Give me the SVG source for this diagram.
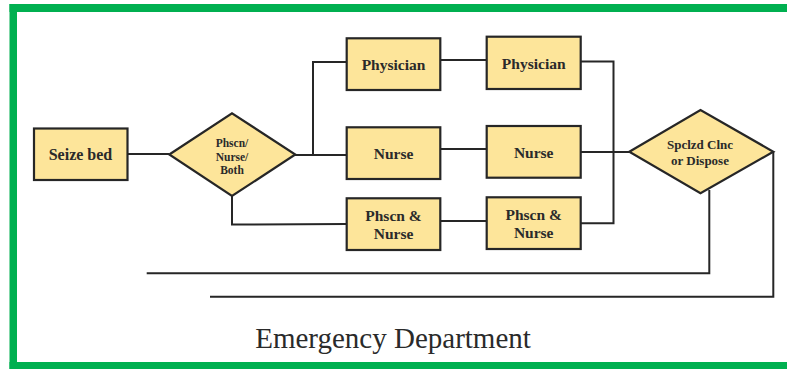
<svg xmlns="http://www.w3.org/2000/svg" width="787" height="369" viewBox="0 0 787 369">
<style>
.box{fill:#fde59a;stroke:#262626;stroke-width:2.2}
.lbl{font-family:"Liberation Serif","Times New Roman",serif;font-weight:bold;fill:#2a2a2a;text-anchor:middle}
.big{font-size:15.5px}
.sm{font-size:11.5px}
.md{font-size:13px}
.con{fill:none;stroke:#262626;stroke-width:2}
.frame{fill:#00b050}
</style>
<rect width="787" height="369" fill="#ffffff"/>
<g id="frame">
<rect class="frame" x="9.5" y="4" width="777.5" height="8"/>
<rect class="frame" x="9.5" y="4" width="7.5" height="365"/>
<rect class="frame" x="9.5" y="362" width="777.5" height="7"/>
</g>
<g id="connectors">
<line class="con" x1="127" y1="154" x2="169" y2="154"/>
<line class="con" x1="295" y1="155" x2="347" y2="155"/>
<polyline class="con" points="313,155 313,62 347,62"/>
<polyline class="con" points="232,196 232,224.5 347,224"/>
<line class="con" x1="440" y1="60" x2="487" y2="60"/>
<line class="con" x1="440" y1="149" x2="487" y2="149"/>
<line class="con" x1="440" y1="221" x2="487" y2="221"/>
<polyline class="con" points="580,61.5 613.5,61.5 613.5,223.3 580,223.3"/>
<line class="con" x1="580" y1="152" x2="630" y2="152"/>
<polyline class="con" points="709.3,190 709.3,273.3 146.7,273.3"/>
<polyline class="con" points="773.3,152 773.3,296.7 210,296.7"/>
</g>
<g id="seize">
<rect class="box" x="34" y="128.5" width="93.5" height="51.5"/>
<text class="lbl big" x="80.5" y="160" style="font-size:16px">Seize bed</text>
</g>
<g id="choice">
<polygon class="box" points="169.3,154.5 232,113.3 295.3,154.5 232,196"/>
<text class="lbl sm" x="232" y="146.5">Phscn/</text>
<text class="lbl sm" x="232" y="160.5">Nurse/</text>
<text class="lbl sm" x="232" y="174">Both</text>
</g>
<g id="phys1">
<rect class="box" x="346.7" y="38.3" width="93.6" height="51.7"/>
<text class="lbl big" x="393.5" y="69.5">Physician</text>
</g>
<g id="phys2">
<rect class="box" x="486.7" y="36.7" width="94" height="52.3"/>
<text class="lbl big" x="533.7" y="68.5">Physician</text>
</g>
<g id="nurse1">
<rect class="box" x="346.7" y="127.3" width="93.6" height="51.7"/>
<text class="lbl big" x="393.5" y="159">Nurse</text>
</g>
<g id="nurse2">
<rect class="box" x="486.7" y="126" width="94" height="51.7"/>
<text class="lbl big" x="533.7" y="158">Nurse</text>
</g>
<g id="pn1">
<rect class="box" x="346.7" y="198.3" width="93.6" height="51.7"/>
<text class="lbl big" x="393.5" y="221">Phscn &amp;</text>
<text class="lbl big" x="393.5" y="238.7">Nurse</text>
</g>
<g id="pn2">
<rect class="box" x="486.7" y="197.3" width="94" height="51.7"/>
<text class="lbl big" x="533.7" y="220">Phscn &amp;</text>
<text class="lbl big" x="533.7" y="237.7">Nurse</text>
</g>
<g id="exit">
<polygon class="box" points="629.3,151.7 700.5,110 773.3,151.7 700.5,193.3"/>
<text class="lbl md" x="700" y="148.5">Spclzd Clnc</text>
<text class="lbl md" x="700" y="165">or Dispose</text>
</g>
<text x="393" y="348" style="font-family:'Liberation Serif','Times New Roman',serif;font-size:29px;fill:#2a2a2a;text-anchor:middle">Emergency Department</text>
</svg>
